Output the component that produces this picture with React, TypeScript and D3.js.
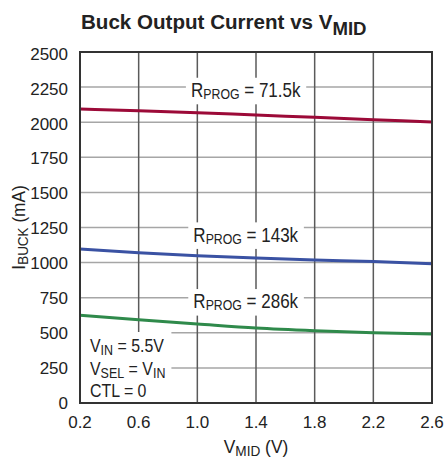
import React, { useEffect, useRef } from "react";
import * as d3 from "d3";

const vmid = [0.2, 0.6, 1.0, 1.4, 1.8, 2.2, 2.6];
const iProg715 = [2094, 2082, 2068, 2051, 2035, 2018, 2001];
const iProg143 = [1097, 1071, 1049, 1033, 1019, 1007, 992];
const iProg286 = [625, 593, 563, 534, 515, 501, 491];
const xTicks = [0.2, 0.6, 1.0, 1.4, 1.8, 2.2, 2.6];
const yTicks = [0, 250, 500, 750, 1000, 1250, 1500, 1750, 2000, 2250, 2500];
const seriesNames = ["71.5k", "143k", "286k"];
const seriesColors = ["#9c0a38", "#3a52a3", "#2f8a4b"];
const labelPos = [
  { x: 1.33, y: 2179 },
  { x: 1.33, y: 1149 },
  { x: 1.33, y: 674 },
];

const FONT = "'Liberation Sans', Arial, sans-serif";

type Part = [string, boolean];
type G = d3.Selection<SVGGElement, unknown, null, undefined>;

function subText(
  parent: G,
  px: number,
  py: number,
  sx: number,
  anchor: string,
  parts: Part[],
  size: number,
  subSize: number,
  subDy: number,
  weight = "normal"
) {
  const g = parent.append("g").attr("transform", `translate(${px},${py}) scale(${sx},1)`);
  const t = g.append("text").attr("font-family", FONT).attr("font-size", size)
    .attr("font-weight", weight).attr("fill", "#222").attr("text-anchor", anchor);
  let prevSub = false;
  parts.forEach(([s, sub]) => {
    const ts = t.append("tspan").text(s);
    if (sub) {
      ts.attr("font-size", subSize);
      if (!prevSub) ts.attr("dy", subDy);
    } else if (prevSub) {
      ts.attr("dy", -subDy);
    }
    prevSub = sub;
  });
  return { g, t };
}

export default function App() {
  const ref = useRef<SVGSVGElement>(null);
  useEffect(() => {
    const svg = d3.select(ref.current!);
    svg.selectAll("*").remove();
    const W = 446, H = 460;
    const m = { l: 80, r: 14, t: 52, b: 57 };
    const x = d3.scaleLinear().domain([0.2, 2.6]).range([m.l, W - m.r]);
    const y = d3.scaleLinear().domain([0, 2500]).range([H - m.b, m.t]);
    const root = svg.append("g") as unknown as G;

    // title
    subText(root, 81, 29, 0.98, "start",
      [["Buck Output Current vs V", false], ["MID", true]], 21, 19, 5.5, "bold");

    // grid
    root.append("g").selectAll("line").data(yTicks.slice(1, -1)).join("line")
      .attr("x1", x(0.2)).attr("x2", x(2.6)).attr("y1", (d) => y(d)).attr("y2", (d) => y(d))
      .attr("stroke", "#a6a6a6").attr("stroke-width", 1.5);
    root.append("g").selectAll("line").data(xTicks.slice(1, -1)).join("line")
      .attr("y1", y(0)).attr("y2", y(2500)).attr("x1", (d) => x(d)).attr("x2", (d) => x(d))
      .attr("stroke", "#5a5a5a").attr("stroke-width", 1.5);

    // series labels with white boxes
    seriesNames.forEach((n, i) => {
      const { g, t } = subText(root, x(labelPos[i].x), y(labelPos[i].y), 0.85, "middle",
        [["R", false], ["PROG", true], [" = " + n, false]], 20, 14.5, 2);
      const bb = (t.node() as SVGTextElement).getBBox();
      g.insert("rect", "text").attr("x", bb.x - 6).attr("y", bb.y - 1)
        .attr("width", bb.width + 12).attr("height", bb.height + 3).attr("fill", "white");
    });

    // annotation box
    const ag = root.append("g") as unknown as G;
    const rows: Part[][] = [
      [["V", false], ["IN", true], [" = 5.5V", false]],
      [["V", false], ["SEL", true], [" = V", false], ["IN", true]],
      [["CTL = 0", false]],
    ];
    const baselines = [352, 374.5, 397];
    const sxA = 0.86;
    const texts = rows.map((r, i) => subText(ag, 90, baselines[i], sxA, "start", r, 18.5, 14.5, 3));
    let maxW = 0;
    texts.forEach(({ t }) => { maxW = Math.max(maxW, (t.node() as SVGTextElement).getBBox().width * sxA); });
    ag.insert("rect", "g").attr("x", x(0.2)).attr("y", 332)
      .attr("width", 90 + maxW + 6 - x(0.2)).attr("height", y(0) - 332).attr("fill", "white");

    // lines
    const series = [iProg715, iProg143, iProg286];
    const line = d3.line<number>().x((_, i) => x(vmid[i])).y((d) => y(d)).curve(d3.curveMonotoneX);
    series.forEach((s, i) => {
      root.append("path").attr("d", line(s)).attr("fill", "none")
        .attr("stroke", seriesColors[i]).attr("stroke-width", 3);
    });

    // frame
    root.append("rect").attr("x", x(0.2)).attr("y", y(2500)).attr("width", x(2.6) - x(0.2))
      .attr("height", y(0) - y(2500)).attr("fill", "none").attr("stroke", "#333").attr("stroke-width", 2);

    // y ticks
    root.append("g").selectAll("text").data(yTicks).join("text")
      .attr("x", 68).attr("y", (d) => y(d) + 1.5 * (d / 2500)).attr("dy", "0.36em").attr("text-anchor", "end")
      .attr("font-family", FONT).attr("font-size", 17).attr("fill", "#222").text((d) => String(d));
    // x ticks
    root.append("g").selectAll("text").data(xTicks).join("text")
      .attr("x", (d) => x(d)).attr("y", 428).attr("text-anchor", "middle")
      .attr("font-family", FONT).attr("font-size", 17).attr("fill", "#222").text((d) => d.toFixed(1));

    // x title
    subText(root, (x(0.2) + x(2.6)) / 2, 453, 0.94, "middle",
      [["V", false], ["MID", true], [" (V)", false]], 18.5, 14.5, 3);
    // y title
    const yg = root.append("g").attr("transform", `translate(25,${(y(0) + y(2500)) / 2}) rotate(-90)`) as unknown as G;
    subText(yg, 0, 0, 0.93, "middle", [["I", false], ["BUCK", true], [" (mA)", false]], 18.5, 14.5, 3);
  }, []);
  return (
    <svg ref={ref} width={446} height={460}
      style={{ position: "absolute", left: 0, top: 0, background: "white" }} />
  );
}
